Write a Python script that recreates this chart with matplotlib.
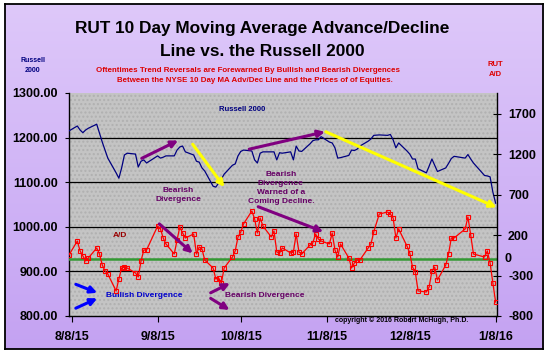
import numpy as np
import pandas as pd
import matplotlib
matplotlib.use("Agg")
import matplotlib.pyplot as plt
from matplotlib.colors import LinearSegmentedColormap
from matplotlib.patches import Rectangle

plt.rcParams['font.family'] = ['Liberation Sans', 'DejaVu Sans']
plt.rcParams['font.weight'] = 'bold'

# ---------------- DATA ----------------
holidays = ["2015-09-07", "2015-11-26", "2015-12-25", "2016-01-01"]
dates = pd.bdate_range("2015-08-07", "2016-01-08")
dates = dates[~dates.isin(pd.to_datetime(holidays))]

# Russell 2000 close (left axis)
russell = [
    1215, 1226, 1217, 1211, 1217, 1221, 1230, 1210, 1190, 1172, 1154, 1121, 1109, 1132, 1161, 1165, 1163,
    1134, 1147, 1150, 1143, 1159, 1154, 1156, 1159, 1159, 1172, 1179, 1181, 1168,
    1161, 1147, 1145, 1132, 1125, 1091, 1089, 1098,
    1107, 1118, 1138, 1141, 1159, 1169, 1172, 1170, 1150, 1143, 1165, 1168,
    1168, 1168, 1150, 1166, 1165, 1168, 1150, 1181, 1170, 1169,
    1186, 1193, 1195, 1195, 1202, 1190, 1188, 1177, 1154, 1155,
    1160, 1172, 1171, 1174, 1181, 1192, 1197, 1205, 1206, 1205,
    1207, 1195, 1177, 1188, 1170, 1163, 1152, 1152, 1130, 1121, 1136, 1152, 1138, 1124,
    1132, 1142, 1153, 1158, 1154, 1162, 1152, 1143,
    1115, 1114, 1112, 1078, 1053,
]

# RUT 10 day MA advance/decline (right axis)
ad_line = [
    -45, 128, 5, -57, -119, -82, 42, -33, -169, -243, -280, -490, -342, -206, -194, -206, -268,
    -317, -119, 17, 17, 314, 277, 165, 91, -33, 141, 302, 227, 165,
    215, -33, 54, 29, -107, -206, -342, -330,
    -392, -206, -70, 5, 178, 240, 339, 500, 401, 227, 413, 314,
    178, 252, -8, -20, 42, -20, -8, 215, -8, -33,
    79, 104, 215, 153, 128, 91, 227, 17, -70, 91,
    -82, -206, -144, -107, -107, 42, 91, 240, 462, 487,
    462, 413, 165, 277, 66, -20, -194, -255, -490, -503, -441, -243, -194, -354,
    -169, -33, 165, 165, 277, 425, 203, -33,
    -70, 5, -144, -392, -627,
]

left_ticks = [800, 900, 1000, 1100, 1200, 1300]
grid_levels = [900, 1000, 1100, 1200]
right_ticks = [-800, -300, 200, 700, 1200, 1700]
zero_line = -100
date_ticks = pd.to_datetime(["2015-08-08", "2015-09-08", "2015-10-08",
                             "2015-11-08", "2015-12-08", "2016-01-08"])
date_labels = ["8/8/15", "9/8/15", "10/8/15", "11/8/15", "12/8/15", "1/8/16"]

# ---------------- FIGURE / BACKGROUND ----------------
fig = plt.figure(figsize=(5.49, 3.56), dpi=100, facecolor="white")

bg = fig.add_axes([0.009, 0.02, 0.98, 0.968])
bg.set_zorder(-1)
grad = np.linspace(0, 1, 256).reshape(-1, 1)
cmap_bg = LinearSegmentedColormap.from_list("bg", ["#DEC8FA", "#C4A2F2"])
bg.imshow(grad, aspect="auto", cmap=cmap_bg, extent=[0, 1, 0, 1])
bg.set_xticks([])
bg.set_yticks([])
for s in bg.spines.values():
    s.set_linewidth(1.3)
    s.set_color("black")

ax = fig.add_axes([0.1257, 0.1124, 0.7796, 0.6264])
ax.set_facecolor("#C4C4C4")
ax.add_patch(Rectangle((0, 0), 1, 1, transform=ax.transAxes, facecolor="#C4C4C4",
                       hatch="....", edgecolor="#B0B0B0", lw=0, zorder=0))

# ---------------- RUSSELL 2000 ----------------
for lv in grid_levels:
    ax.axhline(lv, color="black", lw=0.9, zorder=1)
ax.plot(dates, russell, color="#000080", lw=0.9, zorder=3)
ax.set_ylim(800, 1300)
ax.set_xlim(pd.Timestamp("2015-08-07"), pd.Timestamp("2016-01-08 12:00"))
ax.set_yticks(left_ticks)
ax.set_yticklabels([f"{v:.2f}" for v in left_ticks], fontsize=9, fontweight="bold")
ax.set_xticks(date_ticks)
ax.set_xticklabels(date_labels, fontsize=9, fontweight="bold")
ax.tick_params(axis="y", length=3, pad=5, color="black")
ax.tick_params(axis="x", length=4, pad=7, color="black")
ax.spines["top"].set_visible(False)
ax.spines["right"].set_visible(False)
ax.spines["left"].set_linewidth(1.0)
ax.spines["bottom"].set_linewidth(1.0)

# ---------------- A/D LINE ----------------
ax2 = ax.twinx()
ax2.axhline(zero_line, color="#339933", lw=1.8, zorder=2)
ax2.plot(dates, ad_line, color="#FF0000", lw=0.9, marker="s", markersize=3.5,
         mfc="none", mec="#FF0000", mew=0.8, zorder=4)
ax2.set_ylim(-800, 1960)
ax2.set_yticks(right_ticks)
ax2.set_yticklabels([str(v) for v in right_ticks], fontsize=9, fontweight="bold")
ax2.tick_params(axis="y", direction="inout", length=6, pad=5)
ax2.text(1.018, zero_line, "0", transform=ax2.get_yaxis_transform(), fontsize=9,
         fontweight="bold", va="center", ha="left")
ax2.spines["top"].set_visible(False)
ax2.spines["left"].set_visible(False)
ax2.spines["bottom"].set_visible(False)
ax2.spines["right"].set_linewidth(1.0)

# ---------------- ARROWS ----------------
arrows = [
    ((0.170, 0.707), (0.255, 0.787), "#800080"),
    ((0.289, 0.770), (0.363, 0.578), "#FFFF00"),
    ((0.421, 0.748), (0.598, 0.826), "#800080"),
    ((0.600, 0.826), (0.999, 0.487), "#FFFF00"),
    ((0.211, 0.413), (0.289, 0.281), "#800080"),
    ((0.442, 0.490), (0.594, 0.378), "#800080"),
    ((0.016, 0.142), (0.066, 0.104), "#0000FF"),
    ((0.016, 0.035), (0.066, 0.079), "#0000FF"),
    ((0.331, 0.104), (0.376, 0.147), "#800080"),
    ((0.331, 0.079), (0.375, 0.027), "#800080"),
]
for tail, head, col in arrows:
    ax2.annotate("", xy=head, xytext=tail, xycoords="axes fraction",
                 arrowprops=dict(arrowstyle="-|>", color=col, lw=2.2,
                                 mutation_scale=10, shrinkA=0, shrinkB=0), zorder=5)

# ---------------- LABELS IN PLOT ----------------
ax2.text(0.404, 0.924, "Russell 2000", transform=ax2.transAxes, color="#000080",
         fontsize=5.5, ha="center", va="center")
ax2.text(0.119, 0.363, "A/D", transform=ax2.transAxes, color="#990000",
         fontsize=6, ha="center", va="center")
ax2.text(0.255, 0.543, "Bearish\nDivergence", transform=ax2.transAxes, color="#660066",
         fontsize=6, ha="center", va="center", linespacing=1.5)
ax2.text(0.495, 0.576, "Bearish\nDivergence\nWarned of a\nComing Decline.",
         transform=ax2.transAxes, color="#660066", fontsize=6, ha="center",
         va="center", linespacing=1.4)
ax2.text(0.175, 0.094, "Bullish Divergence", transform=ax2.transAxes, color="#0000CC",
         fontsize=6, ha="center", va="center")
ax2.text(0.458, 0.094, "Bearish Divergence", transform=ax2.transAxes, color="#660066",
         fontsize=6, ha="center", va="center")

# ---------------- TITLES ----------------
fig.text(0.477, 0.921, "RUT 10 Day Moving Average Advance/Decline", fontsize=12.4,
         ha="center", va="center")
fig.text(0.477, 0.854, "Line vs. the Russell 2000", fontsize=12.4, ha="center", va="center")
fig.text(0.451, 0.803, "Oftentimes Trend Reversals are Forewarned By Bullish and Bearish Divergences",
         fontsize=5.7, color="#DD0000", ha="center", va="center")
fig.text(0.464, 0.775, "Between the NYSE 10 Day MA Adv/Dec Line and the Prices of of Equities.",
         fontsize=5.7, color="#DD0000", ha="center", va="center")
fig.text(0.060, 0.815, "Russell\n2000", fontsize=5, color="#000080", ha="center",
         va="center", linespacing=1.6)
fig.text(0.902, 0.805, "RUT\nA/D", fontsize=5.5, color="#DD0000", ha="center",
         va="center", linespacing=1.5)
fig.text(0.732, 0.101, "copyright \u00a9 2016 Robert McHugh, Ph.D.", fontsize=5,
         ha="center", va="center")

fig.savefig("out.png", dpi=100, facecolor="white")
